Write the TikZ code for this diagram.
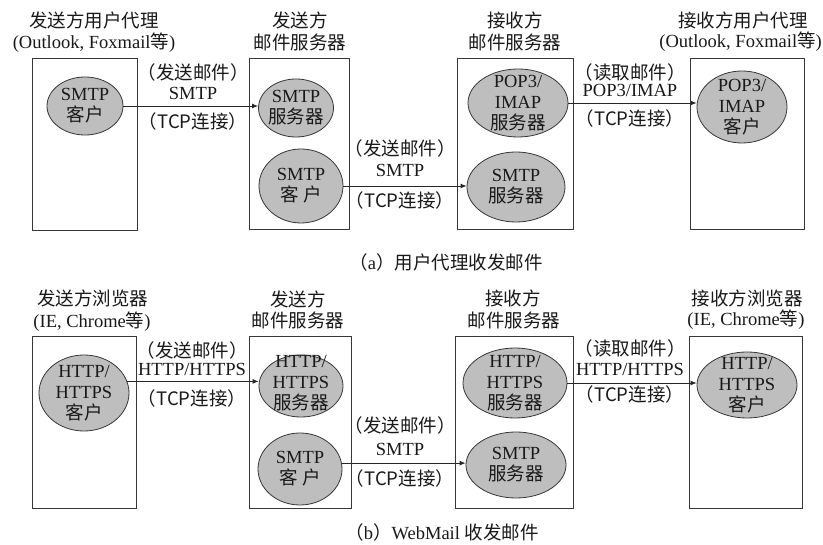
\documentclass[tikz,border=0pt]{standalone}
\usepackage{fontspec}
\setmainfont{Liberation Serif}
\newfontfamily\cjkf{Noto Sans CJK SC}
\newcommand\zhs[1]{{\cjkf #1}}
\usetikzlibrary{shapes.geometric,arrows.meta}
\definecolor{ellfill}{RGB}{190,190,190}
\definecolor{linec}{RGB}{55,55,55}
\begin{document}
\begin{tikzpicture}[x=1pt,y=-1pt,
  every node/.style={font=\fontsize{18.5}{21}\selectfont, inner sep=0pt, align=center, text=black!90},
  boxst/.style={draw=linec, line width=1pt, rectangle},
  ell/.style={ellipse, draw=linec, line width=0.8pt, fill=ellfill},
  arr/.style={draw=black!85, line width=0.9pt, -{Latex[length=6pt,width=5pt]}},
  ]
\useasboundingbox[fill=white] (0,0) rectangle (823,545);

% ---------------- panel (a) ----------------
\node[boxst, minimum width=105pt, minimum height=172pt] (A1) at (84.5,145) {};
\node[boxst, minimum width=100pt, minimum height=171pt] (A2) at (299,144.5) {};
\node[boxst, minimum width=116pt, minimum height=171pt] (A3) at (515,144.5) {};
\node[boxst, minimum width=114pt, minimum height=171pt] (A4) at (747,144.5) {};

\node (ha1) at (94,20) {\zhs{发送方用户代理}};
\node (ha1b) at (94,43) {(Outlook, Foxmail\zhs{等})};
\node (ha2) at (300,20) {\zhs{发送方}};
\node (ha2b) at (300,42) {\zhs{邮件服务器}};
\node (ha3) at (515,20) {\zhs{接收方}};
\node (ha3b) at (515,42) {\zhs{邮件服务器}};
\node (ha4) at (743,20) {\zhs{接收方用户代理}};
\node[anchor=east] (ha4b) at (822,42) {(Outlook, Foxmail\zhs{等})};

\node[ell, minimum width=76pt, minimum height=58pt] (ea1) at (85,106) {};
\node (ta1) at (ea1) {SMTP\\\zhs{客户}};
\node[ell, minimum width=75pt, minimum height=58pt] (ea2) at (296,108) {};
\node (ta2) at (ea2) {SMTP\\\zhs{服务器}};
\node[ell, minimum width=84pt, minimum height=74pt] (ea3) at (301,186) {};
\node (ta3) at (ea3) {SMTP\\\zhs{客 户}};
\node[ell, minimum width=100pt, minimum height=68pt] (ea4) at (518,103) {};
\node (ta4) at (ea4) {POP3/\\IMAP\\\zhs{服务器}};
\node[ell, minimum width=98pt, minimum height=70pt] (ea5) at (516,187) {};
\node (ta5) at (ea5) {SMTP\\\zhs{服务器}};
\node[ell, minimum width=90pt, minimum height=72pt] (ea6) at (742,107) {};
\node (ta6) at (ea6) {POP3/\\IMAP\\\zhs{客户}};

\draw[arr] (ea1.east) -- (ea1.east -| ea2.west);
\draw[arr] (ea3.east) -- (ea3.east -| ea5.west);
\draw[arr] (ea4.east) -- (ea4.east -| ea6.west);

\node (la1a) at (193,72) {\zhs{（发送邮件）}};
\node (la1b) at (193,93) {SMTP};
\node (la1c) at (193,121) {\zhs{（TCP连接）}};
\node (la2a) at (400,148) {\zhs{（发送邮件）}};
\node (la2b) at (400,170) {SMTP};
\node (la2c) at (400,200) {\zhs{（TCP连接）}};
\node (la3a) at (630,72) {\zhs{（读取邮件）}};
\node (la3b) at (630,90) {POP3/IMAP};
\node (la3c) at (630,118) {\zhs{（TCP连接）}};

\node (capa) at (446,262) {\zhs{（}a\zhs{）用户代理收发邮件}};

% ---------------- panel (b) ----------------
\node[boxst, minimum width=104pt, minimum height=172pt] (B1) at (84,423) {};
\node[boxst, minimum width=102pt, minimum height=172pt] (B2) at (300,423) {};
\node[boxst, minimum width=118pt, minimum height=172pt] (B3) at (514,423) {};
\node[boxst, minimum width=113pt, minimum height=172pt] (B4) at (745.5,423) {};

\node (hb1) at (93,298) {\zhs{发送方浏览器}};
\node (hb1b) at (92,322) {(IE, Chrome\zhs{等})};
\node (hb2) at (298,299) {\zhs{发送方}};
\node (hb2b) at (298,320) {\zhs{邮件服务器}};
\node (hb3) at (513,298) {\zhs{接收方}};
\node (hb3b) at (514,320) {\zhs{邮件服务器}};
\node (hb4) at (747,298) {\zhs{接收方浏览器}};
\node (hb4b) at (746,320) {(IE, Chrome\zhs{等})};

\node[ell, minimum width=90pt, minimum height=76pt] (eb1) at (84,393) {};
\node (tb1) at (eb1) {HTTP/\\HTTPS\\\zhs{客户}};
\node[ell, minimum width=84pt, minimum height=62pt] (eb2) at (301,386) {};
\node (tb2) at (301,383) {HTTP/\\HTTPS\\\zhs{服务器}};
\node[ell, minimum width=84pt, minimum height=72pt] (eb3) at (300,469) {};
\node (tb3) at (eb3) {SMTP\\\zhs{客 户}};
\node[ell, minimum width=104pt, minimum height=70pt] (eb4) at (515,383) {};
\node (tb4) at (eb4) {HTTP/\\HTTPS\\\zhs{服务器}};
\node[ell, minimum width=100pt, minimum height=66pt] (eb5) at (516,465) {};
\node (tb5) at (eb5) {SMTP\\\zhs{服务器}};
\node[ell, minimum width=100pt, minimum height=66pt] (eb6) at (747,385) {};
\node (tb6) at (eb6) {HTTP/\\HTTPS\\\zhs{客户}};

\draw[arr] (eb1.15) -- (eb1.15 -| eb2.west);
\draw[arr] (eb3.8) -- (eb3.8 -| eb5.west);
\draw[arr] (eb4.east) -- (eb4.east -| eb6.west);

\node (lb1a) at (192,350) {\zhs{（发送邮件）}};
\node (lb1b) at (192,369) {HTTP/HTTPS};
\node (lb1c) at (192,398) {\zhs{（TCP连接）}};
\node (lb2a) at (400,425) {\zhs{（发送邮件）}};
\node (lb2b) at (400,449) {SMTP};
\node (lb2c) at (400,478) {\zhs{（TCP连接）}};
\node (lb3a) at (630,348) {\zhs{（读取邮件）}};
\node (lb3b) at (630,369) {HTTP/HTTPS};
\node (lb3c) at (630,394) {\zhs{（TCP连接）}};

\node (capb) at (442,532) {\zhs{（}b\zhs{）}WebMail \zhs{收发邮件}};
\end{tikzpicture}
\end{document}
